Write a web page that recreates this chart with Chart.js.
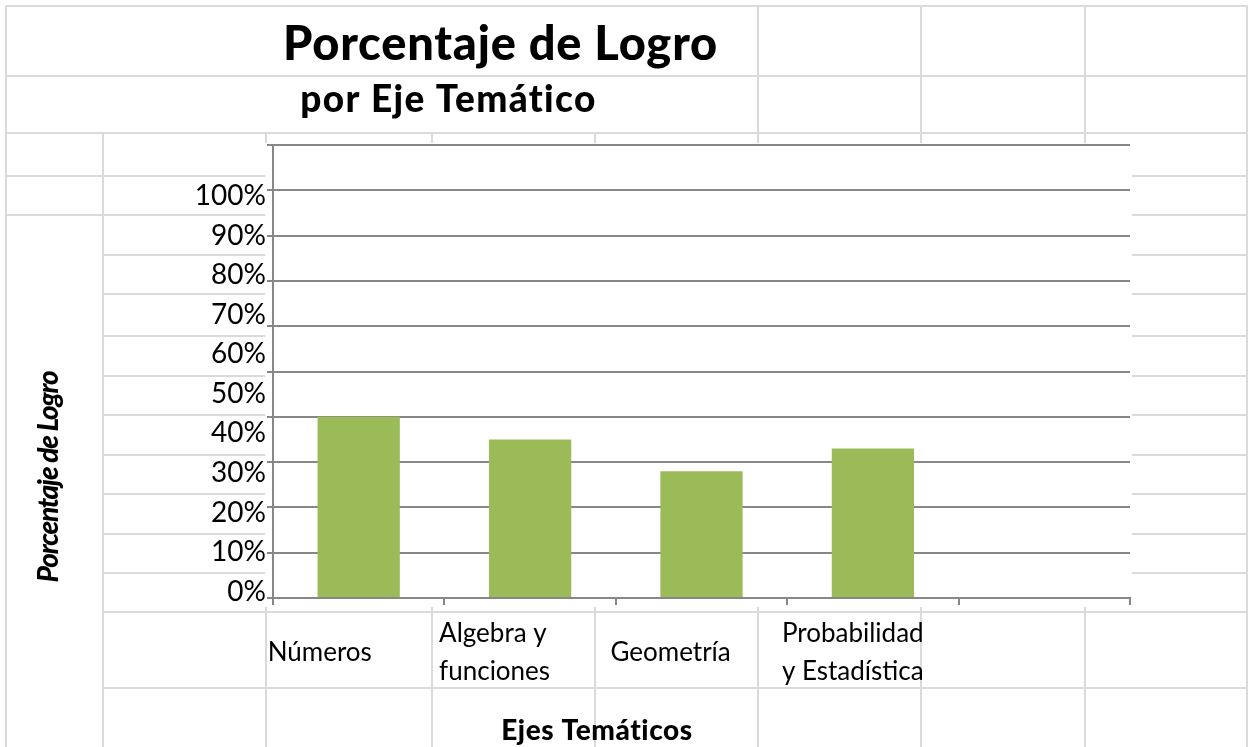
<!DOCTYPE html>
<html lang="es">
<head>
<meta charset="utf-8">
<title>Porcentaje de Logro por Eje Temático</title>
<script src="https://cdn.jsdelivr.net/npm/chart.js@4.4.1/dist/chart.umd.min.js"></script>
<style>
  html, body { margin: 0; padding: 0; background: #fff; }
  #wrap { position: relative; width: 1249px; height: 747px; overflow: hidden; }
  canvas { display: block; }
</style>
</head>
<body>
<div id="wrap"><canvas id="chart" width="1249" height="747"></canvas></div>
<script>
'use strict';
/* global Chart */

// ─── Data ─────────────────────────────────────────────────────────────────────
const titleText    = 'Porcentaje de Logro';
const subtitleText = 'por Eje Temático';
const yAxisTitle   = 'Porcentaje de Logro';
const xAxisTitle   = 'Ejes Temáticos';

const categories = ['Números', ['Algebra y', 'funciones'], 'Geometría', ['Probabilidad', 'y Estadística'], ''];
const logro      = [40, 35, 28, 33, null];
const yTicks     = [0, 10, 20, 30, 40, 50, 60, 70, 80, 90, 100];

// ─── Styles ───────────────────────────────────────────────────────────────────
const GRID  = '#878787';
const SHEET = '#dadada';
const BAR   = '#9bbb59';
const FONT  = 'Lato';

// ─── Spreadsheet background (the chart sits on top of a sheet) ────────────────
// horizontal sheet lines: [y, x1, x2]
const sheetRows = [
  [6, 6, 1248], [76, 6, 1248], [133, 6, 1248],
  [176, 6, 1248], [215, 6, 1248],
  [255, 103, 1248], [294, 103, 1248], [336, 103, 1248], [376, 103, 1248],
  [415, 103, 1248], [455, 103, 1248], [494, 103, 1248], [534, 103, 1248],
  [573, 103, 1248], [612, 103, 1248], [688, 103, 1248],
];
// vertical sheet lines: [x, y1, y2]
const sheetCols = [
  [6, 6, 747], [1247, 6, 747], [103, 133, 747], [266, 133, 747],
  [432, 133, 747], [595, 133, 747], [758, 6, 747], [921, 6, 747], [1085, 6, 747],
];

/** Draw text squeezed / stretched to a given width (cell text in the sheet). */
function spacedText(ctx, text, x, y, font, width) {
  ctx.font = font;
  ctx.letterSpacing = '0px';
  const natural = ctx.measureText(text).width;
  ctx.letterSpacing = ((width - natural) / text.length).toFixed(2) + 'px';
  ctx.fillText(text, x, y);
}

const sheetPlugin = {
  id: 'sheet',
  beforeDraw(chart) {
    const ctx = chart.ctx;
    ctx.save();
    ctx.fillStyle = '#fff';
    ctx.fillRect(0, 0, chart.width, chart.height);

    ctx.strokeStyle = SHEET;
    ctx.lineWidth   = 2;
    ctx.beginPath();
    sheetRows.forEach(([y, x1, x2]) => { ctx.moveTo(x1, y); ctx.lineTo(x2, y); });
    sheetCols.forEach(([x, y1, y2]) => { ctx.moveTo(x, y1); ctx.lineTo(x, y2); });
    ctx.stroke();

    // white chart object covering the sheet
    ctx.fillStyle = '#fff';
    ctx.fillRect(265, 143, 867, 464);

    // sheet cell texts
    ctx.fillStyle    = '#000';
    ctx.textAlign    = 'center';
    ctx.textBaseline = 'alphabetic';
    spacedText(ctx, titleText,    500.5, 60,  `900 47px ${FONT}`, 435);
    spacedText(ctx, subtitleText, 448.5, 112, `900 37px ${FONT}`, 297);
    spacedText(ctx, xAxisTitle,   597,   740, `900 28px ${FONT}`, 192);

    ctx.translate(58, 477);
    ctx.rotate(-Math.PI / 2);
    spacedText(ctx, yAxisTitle, 0, 0, `italic 900 28px ${FONT}`, 211);
    ctx.restore();
  },
};

// ─── Chart ────────────────────────────────────────────────────────────────────
new Chart(document.getElementById('chart'), {
  type: 'bar',
  data: {
    labels: categories,
    datasets: [{
      label: 'Porcentaje de Logro',
      data: logro,
      backgroundColor: BAR,
      borderWidth: 0,
      categoryPercentage: 0.6,
      barPercentage: 0.8,
      yAxisID: 'y',
    }],
  },
  options: {
    responsive: false,
    devicePixelRatio: 1,
    animation: false,
    layout: { padding: { left: 0, right: 119, top: 145, bottom: 0 } },
    plugins: {
      legend:  { display: false },
      tooltip: { enabled: false },
    },
    scales: {
      x: {
        type: 'category',
        offset: true,
        grid: { offset: true, drawOnChartArea: false, drawTicks: true, tickLength: 7, color: GRID, lineWidth: 2 },
        border: { color: GRID, width: 2 },
        ticks: {
          autoSkip: false, maxRotation: 0, minRotation: 0,
          align: 'start', crossAlign: 'center', labelOffset: -91, padding: 29,
          color: '#000',
          font: { family: FONT, size: 26, lineHeight: 1.46 },
        },
        afterFit: (axis) => { axis.height = 149; },
      },
      y: {
        type: 'linear',
        position: 'left',
        weight: 0,
        min: 0, max: 100,
        ticks: { display: false, stepSize: 10 },
        grid: { color: GRID, lineWidth: 2, tickLength: 6, drawTicks: true },
        border: { color: GRID, width: 2 },
        afterFit: (axis) => { axis.width = 6; },
      },
      // percentage labels typed in the sheet cells next to the plot
      yl: {
        type: 'linear',
        position: 'left',
        weight: 1,
        min: -1.6, max: 112.9,
        grid: { display: false, drawTicks: false },
        border: { display: false },
        ticks: {
          padding: 1,
          color: '#000',
          font: { family: FONT, size: 28 },
          callback: (v) => v + '%',
        },
        afterBuildTicks: (axis) => { axis.ticks = yTicks.map((v) => ({ value: v })); },
        afterFit: (axis) => { axis.width = 267; },
      },
    },
  },
  plugins: [sheetPlugin],
});
</script>
</body>
</html>
